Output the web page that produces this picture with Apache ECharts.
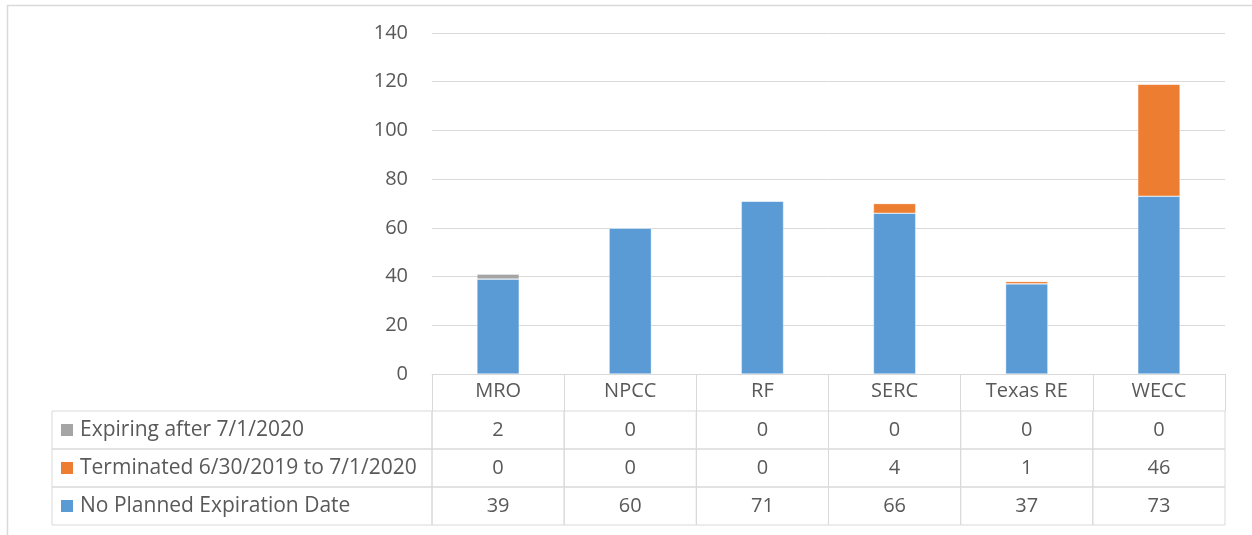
<!DOCTYPE html>
<html>
<head>
<meta charset="utf-8">
<script src="https://cdn.jsdelivr.net/npm/echarts@6/dist/echarts.min.js"></script>
<style>
html,body{margin:0;padding:0;background:#fff;}
#chart{width:1252px;height:535px;}
</style>
</head>
<body>
<div id="chart"></div>
<script>
// ---- data ----
var categories = ['MRO', 'NPCC', 'RF', 'SERC', 'Texas RE', 'WECC'];
var seriesNames = ['No Planned Expiration Date', 'Terminated 6/30/2019 to 7/1/2020', 'Expiring after 7/1/2020'];
var noPlanned = [39, 60, 71, 66, 37, 73];
var terminated = [0, 0, 0, 4, 1, 46];
var expiring = [2, 0, 0, 0, 0, 0];
var yTicks = [0, 20, 40, 60, 80, 100, 120, 140];

var colors = ['#5b9bd5', '#ed7d31', '#a5a5a5'];
var valuesBySeries = [noPlanned, terminated, expiring];
var FONT = '"Open Sans"';
var FS = 20;
var FS_LEG = 21;
var TXT = '#595959';
var LINE = '#d9d9d9';

// table rows top to bottom (reverse of stack order)
var rowOrder = [2, 1, 0];
var rowNames = rowOrder.map(function (i) { return seriesNames[i]; });

var cellData = [];
rowOrder.forEach(function (si, r) {
  valuesBySeries[si].forEach(function (v, c) { cellData.push([c, r, v]); });
});
var legendData = rowOrder.map(function (si, r) { return [0, r, si]; });

var chart = echarts.init(document.getElementById('chart'), null, {renderer: 'canvas'});

var barSeries = valuesBySeries.map(function (vals, i) {
  return {
    name: seriesNames[i],
    type: 'bar',
    stack: 'total',
    xAxisIndex: 0, yAxisIndex: 0,
    barWidth: '32%',
    data: vals,
    itemStyle: {color: colors[i], borderColor: 'rgba(255,255,255,0.6)', borderWidth: 0.6},
    emphasis: {disabled: true},
    silent: true
  };
});

var option = {
  animation: false,
  textStyle: {fontFamily: 'Open Sans'},
  graphic: [{
    type: 'rect', left: 5, top: 3, silent: true,
    shape: {x: 5, y: 3, width: 1300, height: 600},
    style: {fill: 'none', stroke: LINE, lineWidth: 1.5}
  }],
  grid: [
    {left: 432, right: 27, top: 33, bottom: 161, outerBoundsMode: 'none'},
    {left: 432, right: 27, top: 411, bottom: 10, outerBoundsMode: 'none'}
  ],
  xAxis: [
    {
      type: 'category', gridIndex: 0, data: categories,
      axisLine: {show: true, lineStyle: {color: LINE, width: 1}},
      axisTick: {show: true, length: 37, lineStyle: {color: LINE, width: 1}},
      axisLabel: {color: TXT, fontSize: FS, fontFamily: 'Open Sans', margin: 7}
    },
    {
      type: 'category', gridIndex: 1, data: categories, show: false
    }
  ],
  yAxis: [
    {
      type: 'value', gridIndex: 0, min: 0, max: 140, interval: 20,
      axisLine: {show: false}, axisTick: {show: false},
      axisLabel: {color: TXT, fontSize: FS, fontFamily: 'Open Sans', margin: 24},
      splitLine: {lineStyle: {color: LINE, width: 1}}
    },
    {
      type: 'category', gridIndex: 1, data: rowNames, inverse: true, show: false
    }
  ],
  series: barSeries.concat([
    {
      type: 'custom', xAxisIndex: 1, yAxisIndex: 1, silent: true,
      data: cellData,
      renderItem: function (params, api) {
        var pt = api.coord([api.value(0), api.value(1)]);
        var sz = api.size([1, 1]);
        return {
          type: 'group',
          children: [
            {type: 'rect', shape: {x: pt[0] - sz[0] / 2, y: pt[1] - sz[1] / 2, width: sz[0], height: sz[1]},
             style: {fill: 'none', stroke: LINE, lineWidth: 1}},
            {type: 'text', style: {x: pt[0], y: pt[1], text: String(api.value(2)), fill: TXT,
              font: FS + 'px ' + FONT, align: 'center', verticalAlign: 'middle'}}
          ]
        };
      }
    },
    {
      type: 'custom', xAxisIndex: 1, yAxisIndex: 1, silent: true,
      data: legendData,
      renderItem: function (params, api) {
        var pt = api.coord([0, api.value(1)]);
        var sz = api.size([1, 1]);
        var si = api.value(2);
        var right = pt[0] - sz[0] / 2;
        var left = 52;
        var top = pt[1] - sz[1] / 2;
        return {
          type: 'group',
          children: [
            {type: 'rect', shape: {x: left, y: top, width: right - left, height: sz[1]},
             style: {fill: 'none', stroke: LINE, lineWidth: 1}},
            {type: 'rect', shape: {x: left + 9, y: pt[1] - 6, width: 12, height: 12},
             style: {fill: colors[si]}},
            {type: 'text', style: {x: left + 28, y: pt[1], text: seriesNames[si], fill: TXT,
              font: FS_LEG + 'px ' + FONT, align: 'left', verticalAlign: 'middle'}}
          ]
        };
      }
    }
  ])
};
chart.setOption(option);
</script>
</body>
</html>
